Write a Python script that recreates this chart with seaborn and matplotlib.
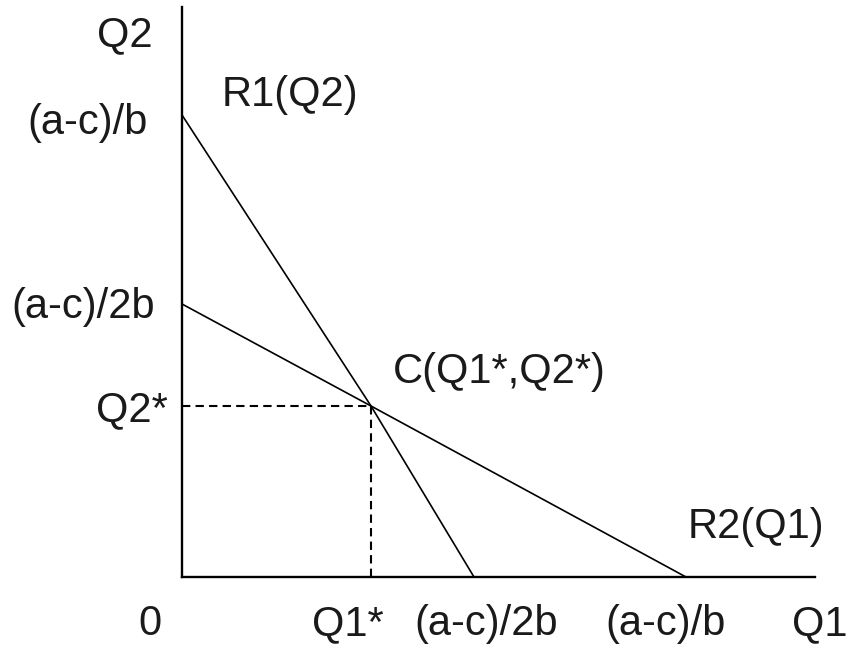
import matplotlib
matplotlib.use('Agg')
import matplotlib.pyplot as plt
import pandas as pd
import seaborn as sns

# reaction curves (in plot units)
r1_q1 = [0, 189, 292]
r1_q2 = [462, 171, 0]
r2_q1 = [0, 189, 504]
r2_q2 = [273, 171, 0]

# equilibrium
q1_star = 189
q2_star = 171

# axis extent
q1_max = 633
q2_max = 570

# labels along the axes
x_labels = ['0', 'Q1*', '(a-c)/2b', '(a-c)/b', 'Q1']
x_label_pos = [-32, 166, 304, 484, 638]
y_labels = ['Q2', '(a-c)/b', '(a-c)/2b', 'Q2*']
y_label_pos = [542, 454, 270, 167]
y_label_x = [-57, -34, -27, -14]
y_label_ha = ['center', 'right', 'right', 'right']

sns.set_style('white')
plt.rcParams['font.family'] = ['Liberation Sans', 'DejaVu Sans']

fig = plt.figure(figsize=(8.49, 6.5), dpi=100)
ax = fig.add_axes([182 / 849, 73 / 650, q1_max / 849, q2_max / 650])

r1 = pd.DataFrame({'Q1': r1_q1, 'Q2': r1_q2})
r2 = pd.DataFrame({'Q1': r2_q1, 'Q2': r2_q2})
sns.lineplot(data=r1, x='Q1', y='Q2', ax=ax, color='black', lw=1.2, estimator=None)
sns.lineplot(data=r2, x='Q1', y='Q2', ax=ax, color='black', lw=1.2, estimator=None)

# dashed guides to the equilibrium
ax.plot([0, q1_star], [q2_star, q2_star], color='black', lw=1.5, ls=(0, (4, 2.5)))
ax.plot([q1_star, q1_star], [0, q2_star], color='black', lw=1.5, ls=(0, (4, 2.5)))

ax.set_xlim(0, q1_max)
ax.set_ylim(0, q2_max)
ax.set_xticks([])
ax.set_yticks([])
ax.set_xlabel('')
ax.set_ylabel('')
for s in ['top', 'right']:
    ax.spines[s].set_visible(False)
for s in ['left', 'bottom']:
    ax.spines[s].set_color('black')
    ax.spines[s].set_linewidth(1.7)

txt = dict(fontsize=30, color='#1a1a1a', clip_on=False)
for lab, xp in zip(x_labels, x_label_pos):
    ax.text(xp, -47, lab, ha='center', va='center', **txt)
for lab, yp, xp, ha in zip(y_labels, y_label_pos, y_label_x, y_label_ha):
    ax.text(xp, yp, lab, ha=ha, va='center', **txt)

ax.text(40, 482, 'R1(Q2)', ha='left', va='center', **txt)
ax.text(211, 205, 'C(Q1*,Q2*)', ha='left', va='center', **txt)
ax.text(506, 50, 'R2(Q1)', ha='left', va='center', **txt)

fig.savefig('out.png', dpi=100)
